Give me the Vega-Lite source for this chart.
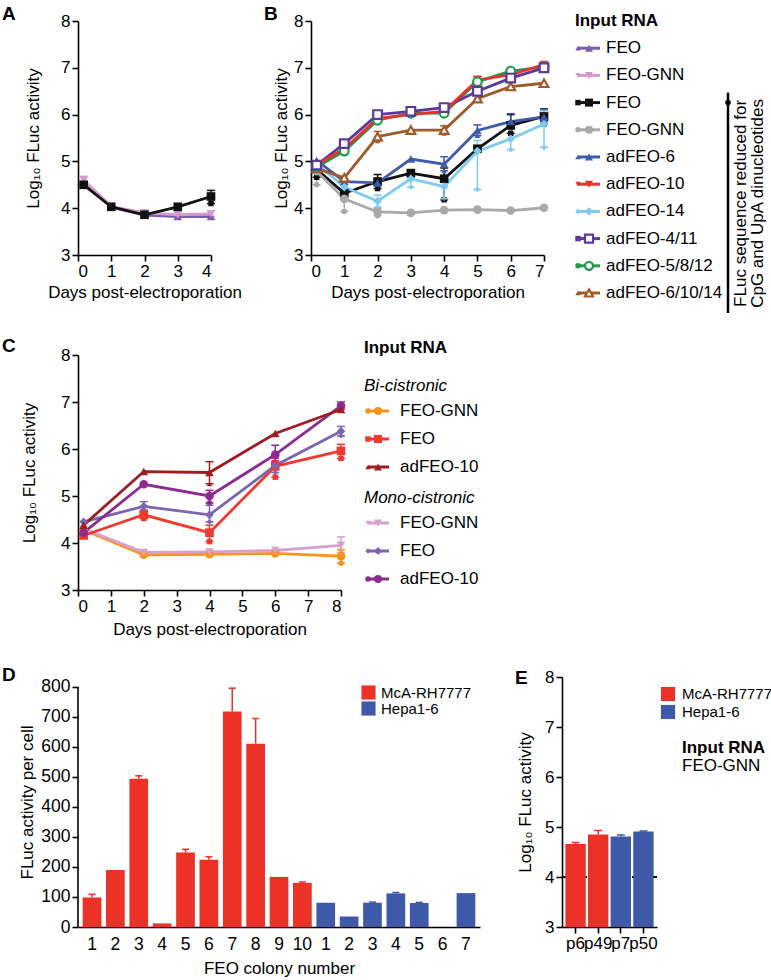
{
"$schema": "https://vega.github.io/schema/vega-lite/v6.json",
"padding": {"left": 2, "top": 4, "right": 0, "bottom": 0},
"config": {
 "font": "Liberation Sans",
 "view": {"stroke": null},
 "axis": {"grid": false, "domainColor": "#000", "domainWidth": 1.6, "tickColor": "#000", "tickWidth": 1.6, "tickSize": 6, "labelColor": "#000", "labelFontSize": 17, "labelPadding": 2, "titleColor": "#000", "titleFontSize": 17, "titleFontWeight": "normal", "labelFont": "Liberation Sans", "titleFont": "Liberation Sans"},
 "title": {"fontSize": 19, "fontWeight": "bold", "anchor": "start", "frame": "group", "color": "#000", "font": "Liberation Sans"},
 "text": {"font": "Liberation Sans", "fontSize": 17, "color": "#000"},
 "legend": {"labelFont": "Liberation Sans"}
},
"datasets": {
 "ab": [
  {"panel":"A","series":"FEO A","day":0.17,"v":4.57},
  {"panel":"A","series":"FEO A","day":1,"v":4.02},
  {"panel":"A","series":"FEO A","day":2,"v":3.85},
  {"panel":"A","series":"FEO A","day":3,"v":3.82},
  {"panel":"A","series":"FEO A","day":4,"v":3.82},
  {"panel":"A","series":"FEO-GNN A","day":0.17,"v":4.6,"lo":4.52,"hi":4.68},
  {"panel":"A","series":"FEO-GNN A","day":1,"v":4.04},
  {"panel":"A","series":"FEO-GNN A","day":2,"v":3.9,"lo":3.84,"hi":3.96},
  {"panel":"A","series":"FEO-GNN A","day":3,"v":3.86},
  {"panel":"A","series":"FEO-GNN A","day":4,"v":3.88,"lo":3.82,"hi":3.94},
  {"panel":"A","series":"FEO","day":0.17,"v":4.5},
  {"panel":"A","series":"FEO","day":1,"v":4.03},
  {"panel":"A","series":"FEO","day":2,"v":3.86},
  {"panel":"A","series":"FEO","day":3,"v":4.03},
  {"panel":"A","series":"FEO","day":4,"v":4.25,"lo":4.1,"hi":4.38},
  {"panel":"B","series":"FEO","day":0.17,"v":4.83,"lo":4.66,"hi":4.98},
  {"panel":"B","series":"FEO","day":1,"v":4.32},
  {"panel":"B","series":"FEO","day":2,"v":4.57,"lo":4.42,"hi":4.72},
  {"panel":"B","series":"FEO","day":3,"v":4.75,"lo":4.68,"hi":4.82},
  {"panel":"B","series":"FEO","day":4,"v":4.63,"lo":4.18,"hi":4.86},
  {"panel":"B","series":"FEO","day":5,"v":5.27},
  {"panel":"B","series":"FEO","day":6,"v":5.77,"lo":5.6,"hi":6.0},
  {"panel":"B","series":"FEO","day":7,"v":5.96,"lo":5.8,"hi":6.12},
  {"panel":"B","series":"FEO-GNN","day":0.17,"v":4.79,"lo":4.5,"hi":4.98},
  {"panel":"B","series":"FEO-GNN","day":1,"v":4.2,"lo":3.93,"hi":4.4},
  {"panel":"B","series":"FEO-GNN","day":2,"v":3.92,"lo":3.84,"hi":4.0},
  {"panel":"B","series":"FEO-GNN","day":3,"v":3.9},
  {"panel":"B","series":"FEO-GNN","day":4,"v":3.96},
  {"panel":"B","series":"FEO-GNN","day":5,"v":3.97},
  {"panel":"B","series":"FEO-GNN","day":6,"v":3.95},
  {"panel":"B","series":"FEO-GNN","day":7,"v":4.01},
  {"panel":"B","series":"adFEO-6","day":0.17,"v":5.02},
  {"panel":"B","series":"adFEO-6","day":1,"v":4.57},
  {"panel":"B","series":"adFEO-6","day":2,"v":4.54},
  {"panel":"B","series":"adFEO-6","day":3,"v":5.05},
  {"panel":"B","series":"adFEO-6","day":4,"v":4.94,"lo":4.8,"hi":5.1},
  {"panel":"B","series":"adFEO-6","day":5,"v":5.66,"lo":5.55,"hi":5.78},
  {"panel":"B","series":"adFEO-6","day":6,"v":5.85,"lo":5.72,"hi":6.02},
  {"panel":"B","series":"adFEO-6","day":7,"v":5.95,"lo":5.85,"hi":6.1},
  {"panel":"B","series":"adFEO-14","day":0.17,"v":4.95},
  {"panel":"B","series":"adFEO-14","day":1,"v":4.45},
  {"panel":"B","series":"adFEO-14","day":2,"v":4.15,"lo":4.02,"hi":4.28},
  {"panel":"B","series":"adFEO-14","day":3,"v":4.63,"lo":4.45,"hi":4.78},
  {"panel":"B","series":"adFEO-14","day":4,"v":4.46,"lo":4.2,"hi":4.62},
  {"panel":"B","series":"adFEO-14","day":5,"v":5.22,"lo":4.4,"hi":5.45},
  {"panel":"B","series":"adFEO-14","day":6,"v":5.48,"lo":5.25,"hi":5.72},
  {"panel":"B","series":"adFEO-14","day":7,"v":5.8,"lo":5.3,"hi":6.08},
  {"panel":"B","series":"adFEO-6/10/14","day":0.17,"v":4.85},
  {"panel":"B","series":"adFEO-6/10/14","day":1,"v":4.65},
  {"panel":"B","series":"adFEO-6/10/14","day":2,"v":5.53,"lo":5.44,"hi":5.64},
  {"panel":"B","series":"adFEO-6/10/14","day":3,"v":5.67},
  {"panel":"B","series":"adFEO-6/10/14","day":4,"v":5.67,"lo":5.6,"hi":5.76},
  {"panel":"B","series":"adFEO-6/10/14","day":5,"v":6.34},
  {"panel":"B","series":"adFEO-6/10/14","day":6,"v":6.6},
  {"panel":"B","series":"adFEO-6/10/14","day":7,"v":6.67},
  {"panel":"B","series":"adFEO-5/8/12","day":0.17,"v":4.88},
  {"panel":"B","series":"adFEO-5/8/12","day":1,"v":5.22},
  {"panel":"B","series":"adFEO-5/8/12","day":2,"v":5.88},
  {"panel":"B","series":"adFEO-5/8/12","day":3,"v":6.03},
  {"panel":"B","series":"adFEO-5/8/12","day":4,"v":6.03},
  {"panel":"B","series":"adFEO-5/8/12","day":5,"v":6.7},
  {"panel":"B","series":"adFEO-5/8/12","day":6,"v":6.93},
  {"panel":"B","series":"adFEO-5/8/12","day":7,"v":7.02},
  {"panel":"B","series":"adFEO-4/11","day":0.17,"v":4.92},
  {"panel":"B","series":"adFEO-4/11","day":1,"v":5.38},
  {"panel":"B","series":"adFEO-4/11","day":2,"v":6.0},
  {"panel":"B","series":"adFEO-4/11","day":3,"v":6.07},
  {"panel":"B","series":"adFEO-4/11","day":4,"v":6.15},
  {"panel":"B","series":"adFEO-4/11","day":5,"v":6.5},
  {"panel":"B","series":"adFEO-4/11","day":6,"v":6.78},
  {"panel":"B","series":"adFEO-4/11","day":7,"v":7.0},
  {"panel":"B","series":"adFEO-10","day":0.17,"v":4.93},
  {"panel":"B","series":"adFEO-10","day":1,"v":5.27},
  {"panel":"B","series":"adFEO-10","day":2,"v":5.92},
  {"panel":"B","series":"adFEO-10","day":3,"v":6.0},
  {"panel":"B","series":"adFEO-10","day":4,"v":6.07},
  {"panel":"B","series":"adFEO-10","day":5,"v":6.74,"lo":6.68,"hi":6.82},
  {"panel":"B","series":"adFEO-10","day":6,"v":6.85},
  {"panel":"B","series":"adFEO-10","day":7,"v":7.07}
 ],
 "c": [
  {"series":"Bi FEO-GNN","day":0.17,"v":4.28},
  {"series":"Bi FEO-GNN","day":2,"v":3.75},
  {"series":"Bi FEO-GNN","day":4,"v":3.76},
  {"series":"Bi FEO-GNN","day":6,"v":3.78},
  {"series":"Bi FEO-GNN","day":8,"v":3.72,"lo":3.57,"hi":3.86},
  {"series":"Mono FEO-GNN","day":0.17,"v":4.3},
  {"series":"Mono FEO-GNN","day":2,"v":3.8},
  {"series":"Mono FEO-GNN","day":4,"v":3.81},
  {"series":"Mono FEO-GNN","day":6,"v":3.84},
  {"series":"Mono FEO-GNN","day":8,"v":3.95,"lo":3.8,"hi":4.13},
  {"series":"Bi FEO","day":0.17,"v":4.16},
  {"series":"Bi FEO","day":2,"v":4.6,"lo":4.52,"hi":4.68},
  {"series":"Bi FEO","day":4,"v":4.22,"lo":4.03,"hi":4.38},
  {"series":"Bi FEO","day":6,"v":5.63,"lo":5.4,"hi":5.75},
  {"series":"Bi FEO","day":8,"v":5.96,"lo":5.8,"hi":6.1},
  {"series":"Mono FEO","day":0.17,"v":4.45},
  {"series":"Mono FEO","day":2,"v":4.78,"lo":4.7,"hi":4.88},
  {"series":"Mono FEO","day":4,"v":4.6,"lo":4.45,"hi":4.8},
  {"series":"Mono FEO","day":6,"v":5.65,"lo":5.5,"hi":5.8},
  {"series":"Mono FEO","day":8,"v":6.38,"lo":6.28,"hi":6.48},
  {"series":"Mono adFEO-10","day":0.17,"v":4.22},
  {"series":"Mono adFEO-10","day":2,"v":5.25},
  {"series":"Mono adFEO-10","day":4,"v":5.0,"lo":4.85,"hi":5.12},
  {"series":"Mono adFEO-10","day":6,"v":5.88,"lo":5.72,"hi":6.08},
  {"series":"Mono adFEO-10","day":8,"v":6.92,"lo":6.85,"hi":7.0},
  {"series":"Bi adFEO-10","day":0.17,"v":4.38},
  {"series":"Bi adFEO-10","day":2,"v":5.52},
  {"series":"Bi adFEO-10","day":4,"v":5.5,"lo":5.26,"hi":5.73},
  {"series":"Bi adFEO-10","day":6,"v":6.33},
  {"series":"Bi adFEO-10","day":8,"v":6.84}
 ],
 "d": [
  {"id":"M1","line":"McA-RH7777","v":98,"hi":109},
  {"id":"M2","line":"McA-RH7777","v":190},
  {"id":"M3","line":"McA-RH7777","v":494,"hi":504},
  {"id":"M4","line":"McA-RH7777","v":12},
  {"id":"M5","line":"McA-RH7777","v":248,"hi":259},
  {"id":"M6","line":"McA-RH7777","v":224,"hi":234},
  {"id":"M7","line":"McA-RH7777","v":718,"hi":796},
  {"id":"M8","line":"McA-RH7777","v":611,"hi":695},
  {"id":"M9","line":"McA-RH7777","v":167},
  {"id":"M10","line":"McA-RH7777","v":147,"hi":150},
  {"id":"H1","line":"Hepa1-6","v":81},
  {"id":"H2","line":"Hepa1-6","v":35},
  {"id":"H3","line":"Hepa1-6","v":81,"hi":83},
  {"id":"H4","line":"Hepa1-6","v":112,"hi":115},
  {"id":"H5","line":"Hepa1-6","v":80,"hi":82},
  {"id":"H6","line":"Hepa1-6","v":0},
  {"id":"H7","line":"Hepa1-6","v":113}
 ],
 "e": [
  {"passage":"p6","line":"McA-RH7777","v":4.66,"hi":4.69},
  {"passage":"p49","line":"McA-RH7777","v":4.85,"hi":4.93},
  {"passage":"p7","line":"Hepa1-6","v":4.81,"hi":4.84},
  {"passage":"p50","line":"Hepa1-6","v":4.91,"hi":4.92}
 ],
 "legB": [
  {"key":"Input RNA","label":"Input RNA","kind":"header"},
  {"key":"FEO A","label":"FEO","kind":"item"},
  {"key":"FEO-GNN A","label":"FEO-GNN","kind":"item"},
  {"key":"FEO","label":"FEO","kind":"item"},
  {"key":"FEO-GNN","label":"FEO-GNN","kind":"item"},
  {"key":"adFEO-6","label":"adFEO-6","kind":"item"},
  {"key":"adFEO-10","label":"adFEO-10","kind":"item"},
  {"key":"adFEO-14","label":"adFEO-14","kind":"item"},
  {"key":"adFEO-4/11","label":"adFEO-4/11","kind":"item"},
  {"key":"adFEO-5/8/12","label":"adFEO-5/8/12","kind":"item"},
  {"key":"adFEO-6/10/14","label":"adFEO-6/10/14","kind":"item"}
 ],
 "legC": [
  {"key":"Input RNA","label":"Input RNA","kind":"header"},
  {"key":"Bi-cistronic","label":"Bi-cistronic","kind":"sub"},
  {"key":"Bi FEO-GNN","label":"FEO-GNN","kind":"item"},
  {"key":"Bi FEO","label":"FEO","kind":"item"},
  {"key":"Bi adFEO-10","label":"adFEO-10","kind":"item"},
  {"key":"Mono-cistronic","label":"Mono-cistronic","kind":"sub"},
  {"key":"Mono FEO-GNN","label":"FEO-GNN","kind":"item"},
  {"key":"Mono FEO","label":"FEO","kind":"item"},
  {"key":"Mono adFEO-10","label":"adFEO-10","kind":"item"}
 ],
 "legE": [
  {"key":"McA-RH7777","kind":"swatch"},
  {"key":"Hepa1-6","kind":"swatch"},
  {"key":"Input RNA","kind":"header"},
  {"key":"FEO-GNN","kind":"text"}
 ]
},
"spacing": 29,
"resolve": {"scale": {"color": "independent", "shape": "independent"}, "legend": {"color": "independent", "shape": "independent"}},
"vconcat": [
 {
  "spacing": 21,
  "resolve": {"scale": {"color": "independent", "shape": "independent"}, "legend": {"color": "independent", "shape": "independent"}},
  "vconcat": [
   {
    "spacing": 22,
    "resolve": {"scale": {"color": "independent", "shape": "independent"}, "legend": {"color": "independent", "shape": "independent"}},
    "hconcat": [
     {
      "title": {"text": "A", "dx": -76, "offset": -11.5},
      "width": 133, "height": 234,
      "data": {"name": "ab"},
      "transform": [{"filter": "datum.panel == 'A'"}],
      "encoding": {
       "x": {"field": "day", "type": "quantitative", "scale": {"domain": [0, 4], "nice": false}, "axis": {"values": [0, 1, 2, 3, 4], "title": "Days post-electroporation", "titlePadding": 5}},
       "color": {"field": "series", "type": "nominal", "scale": {"domain": ["FEO A", "FEO-GNN A", "FEO", "FEO-GNN", "adFEO-6", "adFEO-10", "adFEO-14", "adFEO-4/11", "adFEO-5/8/12", "adFEO-6/10/14"], "range": ["#7B5EA9", "#D69BCB", "#111111", "#A9A9A9", "#3E5BA9", "#E8342B", "#7DCBF1", "#5C3A97", "#1F9A4E", "#A05A2A"]}, "legend": null},
       "shape": {"field": "series", "type": "nominal", "scale": {"domain": ["FEO A", "FEO-GNN A", "FEO", "FEO-GNN", "adFEO-6", "adFEO-10", "adFEO-14", "adFEO-4/11", "adFEO-5/8/12", "adFEO-6/10/14"], "range": ["triangle-up", "triangle-down", "square", "circle", "triangle-up", "triangle-down", "diamond", "square", "circle", "triangle-up"]}, "legend": null}
      },
      "layer": [
       {"transform": [{"filter": "isValid(datum.lo)"}], "mark": {"type": "rule", "strokeWidth": 1.5}, "encoding": {"y": {"field": "lo", "type": "quantitative", "scale": {"domain": [3, 8], "nice": false, "zero": false}, "axis": {"values": [3, 4, 5, 6, 7, 8], "title": "Log₁₀ FLuc activity", "titlePadding": 18}}, "y2": {"field": "hi"}}},
       {"transform": [{"filter": "isValid(datum.lo)"}], "mark": {"type": "tick", "orient": "horizontal", "size": 8, "thickness": 1.5, "opacity": 1}, "encoding": {"y": {"field": "hi", "type": "quantitative", "scale": {"domain": [3, 8], "nice": false, "zero": false}, "axis": {"values": [3, 4, 5, 6, 7, 8], "title": "Log₁₀ FLuc activity", "titlePadding": 18}}}},
       {"transform": [{"filter": "isValid(datum.lo)"}], "mark": {"type": "tick", "orient": "horizontal", "size": 8, "thickness": 1.5, "opacity": 1}, "encoding": {"y": {"field": "lo", "type": "quantitative", "scale": {"domain": [3, 8], "nice": false, "zero": false}, "axis": {"values": [3, 4, 5, 6, 7, 8], "title": "Log₁₀ FLuc activity", "titlePadding": 18}}}},
       {"mark": {"type": "line", "strokeWidth": 2.8}, "encoding": {"y": {"field": "v", "type": "quantitative", "scale": {"domain": [3, 8], "nice": false, "zero": false}, "axis": {"values": [3, 4, 5, 6, 7, 8], "title": "Log₁₀ FLuc activity", "titlePadding": 18}}}},
       {"mark": {"type": "point", "filled": true, "size": 75, "opacity": 1}, "encoding": {"y": {"field": "v", "type": "quantitative", "scale": {"domain": [3, 8], "nice": false, "zero": false}, "axis": {"values": [3, 4, 5, 6, 7, 8], "title": "Log₁₀ FLuc activity", "titlePadding": 18}}}}
      ]
     },
     {
      "title": {"text": "B", "dx": -47, "offset": -11.5},
      "width": 233, "height": 234,
      "data": {"name": "ab"},
      "transform": [{"filter": "datum.panel == 'B'"}],
      "encoding": {
       "x": {"field": "day", "type": "quantitative", "scale": {"domain": [0, 7], "nice": false}, "axis": {"values": [0, 1, 2, 3, 4, 5, 6, 7], "title": "Days post-electroporation", "titlePadding": 5}},
       "color": {"field": "series", "type": "nominal", "scale": {"domain": ["FEO A", "FEO-GNN A", "FEO", "FEO-GNN", "adFEO-6", "adFEO-10", "adFEO-14", "adFEO-4/11", "adFEO-5/8/12", "adFEO-6/10/14"], "range": ["#7B5EA9", "#D69BCB", "#111111", "#A9A9A9", "#3E5BA9", "#E8342B", "#7DCBF1", "#5C3A97", "#1F9A4E", "#A05A2A"]}, "legend": null},
       "shape": {"field": "series", "type": "nominal", "scale": {"domain": ["FEO A", "FEO-GNN A", "FEO", "FEO-GNN", "adFEO-6", "adFEO-10", "adFEO-14", "adFEO-4/11", "adFEO-5/8/12", "adFEO-6/10/14"], "range": ["triangle-up", "triangle-down", "square", "circle", "triangle-up", "triangle-down", "diamond", "square", "circle", "triangle-up"]}, "legend": null}
      },
      "layer": [
       {"transform": [{"filter": "isValid(datum.lo)"}], "mark": {"type": "rule", "strokeWidth": 1.5}, "encoding": {"y": {"field": "lo", "type": "quantitative", "scale": {"domain": [3, 8], "nice": false, "zero": false}, "axis": {"values": [3, 4, 5, 6, 7, 8], "title": "Log₁₀ FLuc activity", "titlePadding": 3}}, "y2": {"field": "hi"}}},
       {"transform": [{"filter": "isValid(datum.lo)"}], "mark": {"type": "tick", "orient": "horizontal", "size": 8, "thickness": 1.5, "opacity": 1}, "encoding": {"y": {"field": "hi", "type": "quantitative", "scale": {"domain": [3, 8], "nice": false, "zero": false}, "axis": {"values": [3, 4, 5, 6, 7, 8], "title": "Log₁₀ FLuc activity", "titlePadding": 3}}}},
       {"transform": [{"filter": "isValid(datum.lo)"}], "mark": {"type": "tick", "orient": "horizontal", "size": 8, "thickness": 1.5, "opacity": 1}, "encoding": {"y": {"field": "lo", "type": "quantitative", "scale": {"domain": [3, 8], "nice": false, "zero": false}, "axis": {"values": [3, 4, 5, 6, 7, 8], "title": "Log₁₀ FLuc activity", "titlePadding": 3}}}},
       {"mark": {"type": "line", "strokeWidth": 2.8}, "encoding": {"y": {"field": "v", "type": "quantitative", "scale": {"domain": [3, 8], "nice": false, "zero": false}, "axis": {"values": [3, 4, 5, 6, 7, 8], "title": "Log₁₀ FLuc activity", "titlePadding": 3}}}},
       {"transform": [{"filter": {"field": "series", "oneOf": ["FEO A", "FEO-GNN A", "FEO", "FEO-GNN", "adFEO-6", "adFEO-10", "adFEO-14"]}}], "mark": {"type": "point", "filled": true, "size": 75, "opacity": 1}, "encoding": {"y": {"field": "v", "type": "quantitative", "scale": {"domain": [3, 8], "nice": false, "zero": false}, "axis": {"values": [3, 4, 5, 6, 7, 8], "title": "Log₁₀ FLuc activity", "titlePadding": 3}}}},
       {"transform": [{"filter": {"field": "series", "oneOf": ["adFEO-4/11", "adFEO-5/8/12", "adFEO-6/10/14"]}}], "mark": {"type": "point", "filled": false, "fill": "white", "strokeWidth": 2.2, "size": 75, "opacity": 1}, "encoding": {"y": {"field": "v", "type": "quantitative", "scale": {"domain": [3, 8], "nice": false, "zero": false}, "axis": {"values": [3, 4, 5, 6, 7, 8], "title": "Log₁₀ FLuc activity", "titlePadding": 3}}}}
      ]
     },
     {
      "width": 190, "height": 272,
      "data": {"name": "legB"},
      "encoding": {
       "y": {"field": "key", "type": "nominal", "scale": {"type": "point", "padding": 0, "domain": ["Input RNA", "FEO A", "FEO-GNN A", "FEO", "FEO-GNN", "adFEO-6", "adFEO-10", "adFEO-14", "adFEO-4/11", "adFEO-5/8/12", "adFEO-6/10/14"]}, "axis": null},
       "color": {"field": "key", "type": "nominal", "scale": {"domain": ["FEO A", "FEO-GNN A", "FEO", "FEO-GNN", "adFEO-6", "adFEO-10", "adFEO-14", "adFEO-4/11", "adFEO-5/8/12", "adFEO-6/10/14"], "range": ["#7B5EA9", "#D69BCB", "#111111", "#A9A9A9", "#3E5BA9", "#E8342B", "#7DCBF1", "#5C3A97", "#1F9A4E", "#A05A2A"]}, "legend": null},
       "shape": {"field": "key", "type": "nominal", "scale": {"domain": ["FEO A", "FEO-GNN A", "FEO", "FEO-GNN", "adFEO-6", "adFEO-10", "adFEO-14", "adFEO-4/11", "adFEO-5/8/12", "adFEO-6/10/14"], "range": ["triangle-up", "triangle-down", "square", "circle", "triangle-up", "triangle-down", "diamond", "square", "circle", "triangle-up"]}, "legend": null}
      },
      "layer": [
       {"transform": [{"filter": "datum.kind == 'header'"}], "mark": {"type": "text", "fontWeight": "bold", "align": "left", "baseline": "middle"}, "encoding": {"x": {"datum": 0, "type": "quantitative", "scale": {"domain": [0, 190], "nice": false, "zero": false}, "axis": null}, "text": {"field": "label"}, "color": {"value": "#000"}}},
       {"transform": [{"filter": "datum.kind == 'item'"}], "mark": {"type": "rule", "strokeWidth": 3}, "encoding": {"x": {"datum": 3, "type": "quantitative", "scale": {"domain": [0, 190], "nice": false, "zero": false}, "axis": null}, "x2": {"datum": 25}}},
       {"transform": [{"filter": {"field": "key", "oneOf": ["FEO A", "FEO-GNN A", "FEO", "FEO-GNN", "adFEO-6", "adFEO-10", "adFEO-14"]}}], "mark": {"type": "point", "filled": true, "size": 65, "opacity": 1}, "encoding": {"x": {"datum": 14, "type": "quantitative", "scale": {"domain": [0, 190], "nice": false, "zero": false}, "axis": null}}},
       {"transform": [{"filter": {"field": "key", "oneOf": ["adFEO-4/11", "adFEO-5/8/12", "adFEO-6/10/14"]}}], "mark": {"type": "point", "filled": false, "fill": "white", "strokeWidth": 2.2, "size": 65, "opacity": 1}, "encoding": {"x": {"datum": 14, "type": "quantitative", "scale": {"domain": [0, 190], "nice": false, "zero": false}, "axis": null}}},
       {"transform": [{"filter": "datum.kind == 'item'"}], "mark": {"type": "text", "align": "left", "baseline": "middle"}, "encoding": {"x": {"datum": 31, "type": "quantitative", "scale": {"domain": [0, 190], "nice": false, "zero": false}, "axis": null}, "text": {"field": "label"}, "color": {"value": "#000"}}},
       {"transform": [{"filter": "datum.kind == 'header'"}], "mark": {"type": "rule", "strokeWidth": 2.5, "color": "#000", "yOffset": -10, "y2Offset": 20}, "encoding": {"x": {"datum": 153, "type": "quantitative", "scale": {"domain": [0, 190], "nice": false, "zero": false}, "axis": null}, "y": {"datum": "FEO", "type": "nominal"}, "y2": {"datum": "adFEO-6/10/14"}, "color": {"value": "#000"}}},
       {"transform": [{"filter": "datum.kind == 'header'"}], "mark": {"type": "text", "angle": 270, "align": "center", "baseline": "middle", "yOffset": -8, "text": "FLuc sequence reduced for"}, "encoding": {"x": {"datum": 166, "type": "quantitative", "scale": {"domain": [0, 190], "nice": false, "zero": false}, "axis": null}, "y": {"datum": "adFEO-14", "type": "nominal"}, "color": {"value": "#000"}}},
       {"transform": [{"filter": "datum.kind == 'header'"}], "mark": {"type": "text", "angle": 270, "align": "center", "baseline": "middle", "yOffset": -8, "text": "CpG and UpA dinucleotides"}, "encoding": {"x": {"datum": 183, "type": "quantitative", "scale": {"domain": [0, 190], "nice": false, "zero": false}, "axis": null}, "y": {"datum": "adFEO-14", "type": "nominal"}, "color": {"value": "#000"}}}
      ]
     }
    ]
   },
   {
    "spacing": 17,
    "resolve": {"scale": {"color": "independent", "shape": "independent"}, "legend": {"color": "independent", "shape": "independent"}},
    "hconcat": [
     {
      "title": {"text": "C", "dx": -76, "offset": -9.5},
      "width": 263, "height": 235,
      "data": {"name": "c"},
      "encoding": {
       "x": {"field": "day", "type": "quantitative", "scale": {"domain": [0, 8], "nice": false}, "axis": {"values": [0, 1, 2, 3, 4, 5, 6, 7, 8], "title": "Days post-electroporation", "titlePadding": 7}},
       "color": {"field": "series", "type": "nominal", "scale": {"domain": ["Bi FEO-GNN", "Bi FEO", "Bi adFEO-10", "Mono FEO-GNN", "Mono FEO", "Mono adFEO-10"], "range": ["#F7941E", "#EE3A30", "#9D1D22", "#D8A0CE", "#7B66AF", "#8D2B8F"]}, "legend": null},
       "shape": {"field": "series", "type": "nominal", "scale": {"domain": ["Bi FEO-GNN", "Bi FEO", "Bi adFEO-10", "Mono FEO-GNN", "Mono FEO", "Mono adFEO-10"], "range": ["circle", "square", "triangle-up", "triangle-down", "diamond", "circle"]}, "legend": null}
      },
      "layer": [
       {"transform": [{"filter": "isValid(datum.lo)"}], "mark": {"type": "rule", "strokeWidth": 1.5}, "encoding": {"y": {"field": "lo", "type": "quantitative", "scale": {"domain": [3, 8], "nice": false, "zero": false}, "axis": {"values": [3, 4, 5, 6, 7, 8], "title": "Log₁₀ FLuc activity", "titlePadding": 22}}, "y2": {"field": "hi"}}},
       {"transform": [{"filter": "isValid(datum.lo)"}], "mark": {"type": "tick", "orient": "horizontal", "size": 8, "thickness": 1.5, "opacity": 1}, "encoding": {"y": {"field": "hi", "type": "quantitative", "scale": {"domain": [3, 8], "nice": false, "zero": false}, "axis": {"values": [3, 4, 5, 6, 7, 8], "title": "Log₁₀ FLuc activity", "titlePadding": 22}}}},
       {"transform": [{"filter": "isValid(datum.lo)"}], "mark": {"type": "tick", "orient": "horizontal", "size": 8, "thickness": 1.5, "opacity": 1}, "encoding": {"y": {"field": "lo", "type": "quantitative", "scale": {"domain": [3, 8], "nice": false, "zero": false}, "axis": {"values": [3, 4, 5, 6, 7, 8], "title": "Log₁₀ FLuc activity", "titlePadding": 22}}}},
       {"mark": {"type": "line", "strokeWidth": 2.8}, "encoding": {"y": {"field": "v", "type": "quantitative", "scale": {"domain": [3, 8], "nice": false, "zero": false}, "axis": {"values": [3, 4, 5, 6, 7, 8], "title": "Log₁₀ FLuc activity", "titlePadding": 22}}}},
       {"mark": {"type": "point", "filled": true, "size": 75, "opacity": 1}, "encoding": {"y": {"field": "v", "type": "quantitative", "scale": {"domain": [3, 8], "nice": false, "zero": false}, "axis": {"values": [3, 4, 5, 6, 7, 8], "title": "Log₁₀ FLuc activity", "titlePadding": 22}}}}
      ]
     },
     {
      "width": 150, "height": 224,
      "data": {"name": "legC"},
      "encoding": {
       "y": {"field": "key", "type": "nominal", "scale": {"type": "point", "padding": 0, "domain": ["Input RNA", "Bi-cistronic", "Bi FEO-GNN", "Bi FEO", "Bi adFEO-10", "Mono-cistronic", "Mono FEO-GNN", "Mono FEO", "Mono adFEO-10"]}, "axis": null},
       "color": {"field": "key", "type": "nominal", "scale": {"domain": ["Bi FEO-GNN", "Bi FEO", "Bi adFEO-10", "Mono FEO-GNN", "Mono FEO", "Mono adFEO-10"], "range": ["#F7941E", "#EE3A30", "#9D1D22", "#D8A0CE", "#7B66AF", "#8D2B8F"]}, "legend": null},
       "shape": {"field": "key", "type": "nominal", "scale": {"domain": ["Bi FEO-GNN", "Bi FEO", "Bi adFEO-10", "Mono FEO-GNN", "Mono FEO", "Mono adFEO-10"], "range": ["circle", "square", "triangle-up", "triangle-down", "diamond", "circle"]}, "legend": null}
      },
      "layer": [
       {"transform": [{"filter": "datum.kind == 'header'"}], "mark": {"type": "text", "fontWeight": "bold", "align": "left", "baseline": "middle", "dy": -7}, "encoding": {"x": {"datum": 0, "type": "quantitative", "scale": {"domain": [0, 150], "nice": false, "zero": false}, "axis": null}, "text": {"field": "label"}, "color": {"value": "#000"}}},
       {"transform": [{"filter": "datum.kind == 'sub'"}], "mark": {"type": "text", "fontStyle": "italic", "align": "left", "baseline": "middle", "dy": 3}, "encoding": {"x": {"datum": 0, "type": "quantitative", "scale": {"domain": [0, 150], "nice": false, "zero": false}, "axis": null}, "text": {"field": "label"}, "color": {"value": "#000"}}},
       {"transform": [{"filter": "datum.kind == 'item'"}], "mark": {"type": "rule", "strokeWidth": 3}, "encoding": {"x": {"datum": 4, "type": "quantitative", "scale": {"domain": [0, 150], "nice": false, "zero": false}, "axis": null}, "x2": {"datum": 25}}},
       {"transform": [{"filter": "datum.kind == 'item'"}], "mark": {"type": "point", "filled": true, "size": 65, "opacity": 1}, "encoding": {"x": {"datum": 14, "type": "quantitative", "scale": {"domain": [0, 150], "nice": false, "zero": false}, "axis": null}}},
       {"transform": [{"filter": "datum.kind == 'item'"}], "mark": {"type": "text", "align": "left", "baseline": "middle"}, "encoding": {"x": {"datum": 36, "type": "quantitative", "scale": {"domain": [0, 150], "nice": false, "zero": false}, "axis": null}, "text": {"field": "label"}, "color": {"value": "#000"}}}
      ]
     }
    ]
   }
  ]
 },
 {
  "spacing": 35,
  "resolve": {"scale": {"color": "independent", "shape": "independent"}, "legend": {"color": "independent", "shape": "independent"}},
  "hconcat": [
   {
    "title": {"text": "D", "dx": -76, "offset": -8},
    "width": 402, "height": 250,
    "data": {"name": "d"},
    "resolve": {"scale": {"x": "independent"}},
    "layer": [
     {"mark": {"type": "bar"}, "encoding": {
       "x": {"field": "id", "type": "nominal", "sort": null, "scale": {"domain": ["M1","M2","M3","M4","M5","M6","M7","M8","M9","M10","H1","H2","H3","H4","H5","H6","H7"], "paddingInner": 0.2, "paddingOuter": 0.2}, "axis": {"labelExpr": "slice(datum.label, 1)", "labelAngle": 0, "ticks": false, "labelPadding": 8, "labelFontSize": 17.5, "title": "FEO colony number", "titlePadding": 8}},
       "y": {"field": "v", "type": "quantitative", "scale": {"domain": [0, 833.33], "nice": false}, "axis": {"values": [0, 100, 200, 300, 400, 500, 600, 700, 800], "domain": false, "title": "FLuc activity per cell", "titlePadding": 4, "labelFontSize": 17.5}},
       "color": {"field": "line", "type": "nominal", "scale": {"domain": ["McA-RH7777", "Hepa1-6"], "range": ["#EC3127", "#3D59A8"]}, "legend": {"orient": "top-right", "offset": 8, "title": null, "symbolType": "square", "symbolSize": 200, "symbolStrokeWidth": 0, "symbolOpacity": 1, "labelFontSize": 15, "labelOffset": 5, "rowPadding": 0, "padding": 0, "labelColor": "#000"}}}},
     {"transform": [{"filter": "isValid(datum.hi)"}], "mark": {"type": "rule", "strokeWidth": 1.5}, "encoding": {
       "x": {"field": "id", "type": "nominal", "sort": null, "scale": {"domain": ["M1","M2","M3","M4","M5","M6","M7","M8","M9","M10","H1","H2","H3","H4","H5","H6","H7"], "paddingInner": 0.2, "paddingOuter": 0.2}, "axis": null},
       "y": {"field": "v", "type": "quantitative", "scale": {"domain": [0, 833.33], "nice": false}, "axis": {"values": [0, 100, 200, 300, 400, 500, 600, 700, 800], "domain": false, "title": "FLuc activity per cell", "titlePadding": 4, "labelFontSize": 17.5}}, "y2": {"field": "hi"},
       "color": {"field": "line", "type": "nominal", "scale": {"domain": ["McA-RH7777", "Hepa1-6"], "range": ["#EC3127", "#3D59A8"]}, "legend": null}}},
     {"transform": [{"filter": "isValid(datum.hi)"}], "mark": {"type": "tick", "orient": "horizontal", "size": 7, "thickness": 1.5, "opacity": 1}, "encoding": {
       "x": {"field": "id", "type": "nominal", "sort": null, "scale": {"domain": ["M1","M2","M3","M4","M5","M6","M7","M8","M9","M10","H1","H2","H3","H4","H5","H6","H7"], "paddingInner": 0.2, "paddingOuter": 0.2}, "axis": null},
       "y": {"field": "hi", "type": "quantitative", "scale": {"domain": [0, 833.33], "nice": false}, "axis": {"values": [0, 100, 200, 300, 400, 500, 600, 700, 800], "domain": false, "title": "FLuc activity per cell", "titlePadding": 4, "labelFontSize": 17.5}},
       "color": {"field": "line", "type": "nominal", "scale": {"domain": ["McA-RH7777", "Hepa1-6"], "range": ["#EC3127", "#3D59A8"]}, "legend": null}}},
     {"transform": [{"filter": "datum.id == 'M1'"}], "mark": {"type": "rule", "strokeWidth": 1.6, "color": "#000"}, "encoding": {
       "x": {"datum": 0, "type": "quantitative", "scale": {"domain": [0, 1]}, "axis": null},
       "y": {"datum": 0, "type": "quantitative", "scale": {"domain": [0, 833.33], "nice": false}, "axis": {"values": [0, 100, 200, 300, 400, 500, 600, 700, 800], "domain": false, "title": "FLuc activity per cell", "titlePadding": 4, "labelFontSize": 17.5}},
       "y2": {"datum": 800}, "color": {"value": "#000"}}}
    ]
   },
   {
    "spacing": 2,
    "resolve": {"scale": {"color": "independent", "shape": "independent"}, "legend": {"color": "independent", "shape": "independent"}},
    "hconcat": [
     {
      "title": {"text": "E", "dx": -47, "offset": -19.5},
      "width": 95, "height": 250,
      "data": {"name": "e"},
      "layer": [
       {"mark": {"type": "rule", "strokeDash": [4, 3], "strokeWidth": 1.5, "color": "#000"}, "encoding": {"y": {"datum": 4, "type": "quantitative", "scale": {"domain": [3, 8], "nice": false, "zero": false}, "axis": {"values": [3, 4, 5, 6, 7, 8], "title": "Log₁₀ FLuc activity", "titlePadding": 10}}}},
       {"mark": {"type": "bar"}, "encoding": {"x": {"field": "passage", "type": "nominal", "sort": null, "scale": {"paddingInner": 0.1, "paddingOuter": 0.15}, "axis": {"labelAngle": 0, "title": null, "labelOverlap": false, "labelPadding": 2}}, "y": {"field": "v", "type": "quantitative", "scale": {"domain": [3, 8], "nice": false, "zero": false}, "axis": {"values": [3, 4, 5, 6, 7, 8], "title": "Log₁₀ FLuc activity", "titlePadding": 10}}, "y2": {"datum": 3}, "color": {"field": "line", "type": "nominal", "scale": {"domain": ["McA-RH7777", "Hepa1-6"], "range": ["#EC3127", "#3D59A8"]}, "legend": null}}},
       {"mark": {"type": "rule", "strokeWidth": 1.5}, "encoding": {"x": {"field": "passage", "type": "nominal", "sort": null}, "y": {"field": "v", "type": "quantitative", "scale": {"domain": [3, 8], "nice": false, "zero": false}, "axis": {"values": [3, 4, 5, 6, 7, 8], "title": "Log₁₀ FLuc activity", "titlePadding": 10}}, "y2": {"field": "hi"}, "color": {"field": "line", "type": "nominal", "scale": {"domain": ["McA-RH7777", "Hepa1-6"], "range": ["#EC3127", "#3D59A8"]}, "legend": null}}},
       {"mark": {"type": "tick", "orient": "horizontal", "size": 8, "thickness": 1.5, "opacity": 1}, "encoding": {"x": {"field": "passage", "type": "nominal", "sort": null}, "y": {"field": "hi", "type": "quantitative", "scale": {"domain": [3, 8], "nice": false, "zero": false}, "axis": {"values": [3, 4, 5, 6, 7, 8], "title": "Log₁₀ FLuc activity", "titlePadding": 10}}, "color": {"field": "line", "type": "nominal", "scale": {"domain": ["McA-RH7777", "Hepa1-6"], "range": ["#EC3127", "#3D59A8"]}, "legend": null}}}
      ]
     },
     {
      "width": 110, "height": 106,
      "data": {"name": "legE"},
      "encoding": {
       "y": {"field": "key", "type": "nominal", "scale": {"type": "point", "padding": 0.944, "domain": ["McA-RH7777", "Hepa1-6", " ", "Input RNA", "FEO-GNN"]}, "axis": null}
      },
      "layer": [
       {"transform": [{"filter": "datum.kind == 'swatch'"}], "mark": {"type": "point", "shape": "square", "filled": true, "size": 200, "opacity": 1}, "encoding": {"x": {"datum": 7, "type": "quantitative", "scale": {"domain": [0, 110], "nice": false, "zero": false}, "axis": null}, "color": {"field": "key", "type": "nominal", "scale": {"domain": ["McA-RH7777", "Hepa1-6"], "range": ["#EC3127", "#3D59A8"]}, "legend": null}}},
       {"transform": [{"filter": "datum.kind == 'swatch'"}], "mark": {"type": "text", "align": "left", "baseline": "middle", "fontSize": 15}, "encoding": {"x": {"datum": 21, "type": "quantitative", "scale": {"domain": [0, 110], "nice": false, "zero": false}, "axis": null}, "text": {"field": "key"}}},
       {"transform": [{"filter": "datum.kind == 'text'"}], "mark": {"type": "text", "align": "left", "baseline": "middle"}, "encoding": {"x": {"datum": 21, "type": "quantitative", "scale": {"domain": [0, 110], "nice": false, "zero": false}, "axis": null}, "text": {"field": "key"}}},
       {"transform": [{"filter": "datum.kind == 'header'"}], "mark": {"type": "text", "align": "left", "baseline": "middle", "fontWeight": "bold"}, "encoding": {"x": {"datum": 21, "type": "quantitative", "scale": {"domain": [0, 110], "nice": false, "zero": false}, "axis": null}, "text": {"field": "key"}}}
      ]
     }
    ]
   }
  ]
 }
]
}
